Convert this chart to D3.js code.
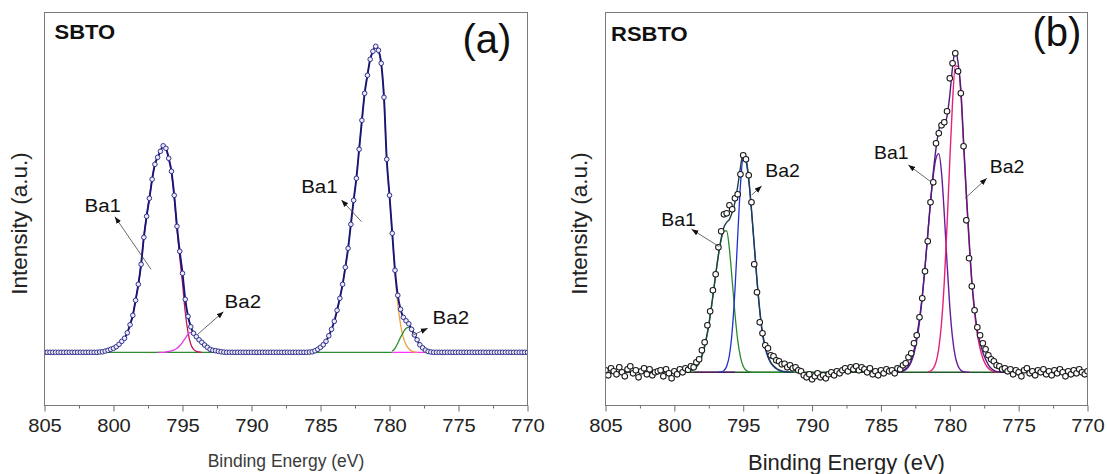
<!DOCTYPE html>
<html><head><meta charset="utf-8">
<script src="https://cdn.jsdelivr.net/npm/d3@7"></script>
<style>
body{margin:0;background:#fff;}
svg{display:block;}
text{font-family:"Liberation Sans",Arial,sans-serif;}
</style></head><body>
<svg id="c" width="1107" height="474"></svg>
<script>
// ---------------- DATA ----------------
const STEP = 0.2; // eV sampling step
const majorTicks = [805, 800, 795, 790, 785, 780, 775, 770];
const minorTicks = [802.5, 797.5, 792.5, 787.5, 782.5, 777.5, 772.5];
const energyGrid = d3.range(176).map(i => +(805 - i * STEP).toFixed(1));

// (a) SBTO measured intensity, 805 -> 770 eV
const sbtoCounts = [
  0,0,0,0,0,0,0,0,0,0,0,0,0,0,0,0,0,0,0,0,
  0.3,0.5,1.2,2,3,4,5.6,8,11,14,19.5,27.5,37,52,68,88,115,136,154,173,188,195,201,206.5,204,194,181,157,126,101,79,53,36,25.5,19,15.6,12.5,10,7.3,5,3,2,1.6,1,0.5,0.2,
  0,0,0,0,0,0,0,0,0,0,0,0,0,0,0,0,0,0,0,0,0,0,0,0,0,0,0,0,0,
  0,0.2,0.5,1.5,3,5,7.5,11,16.5,23,31,42,54,68,85,104,128,152,174,203,232,259,277,293,301,306,302,289,255,193,157,119,82,57,43,35,31.5,28.5,23,17.4,12.5,7.5,4.5,2.2,0.8,0.3,
  0,0,0,0,0,0,0,0,0,0,0,0,0,0,0,0,0,0,0,0,0,0,0,0,0,0,0,0,0,0,0,0,0,0,0
];
// (a) fitted components (values every 0.2 eV from their start energy)
const sbtoBa1_3d32 = [0.3,0.5,1.2,2,3,4,5.6,8,11,14,19.5,27.5,37,52,68,88,115,136,154,173,188,195,201,206.5,204,194,180,155,123,95,69,40,20,8,3,1,0.3,0];
const sbtoBa2_3d32 = [0,0,0,0.3,0.8,1.5,2.5,4,6.5,10,14,18,20,18.5,15,11.5,8.5,6,4,2.5,1.3,0.6,0.2,0];
const sbtoBa1_3d52 = [0,0.2,0.5,1.5,3,5,7.5,11,16.5,23,31,42,54,68,85,104,128,152,174,203,232,259,277,293,301,306,302,289,255,192,156,118,78,48,28,15,7.5,3.5,1.2,0.4,0];
const sbtoBa2_3d52 = [1,4,9,15,20,24,25,22,17,12.5,7.5,4.5,2.2,0.8,0.3];
const sbtoComponentStarts = [801.0, 796.8, 786.0, 779.8];
const sbtoBaselines = [[800.4, 779.8], [779.8, 777.4]];
const sbtoLabels = [
  {text:"Ba1", e:802.1, v:140.6, tailE:797.28, tailV:83,  headE:799.9, headV:135.6},
  {text:"Ba2", e:791.95, v:44,  tailE:793.9,  tailV:18,  headE:792.03, headV:40.6},
  {text:"Ba1", e:786.4, v:159,  tailE:782.03, tailV:130.6, headE:783.48, headV:152.3},
  {text:"Ba2", e:776.88, v:28.3, tailE:778.29, tailV:17.3, headE:777.23, headV:24}
];

// (b) RSBTO measured intensity, 805 -> 770 eV
const rsbtoCounts = [
  2,-3,4,1,-2,5,0,-4,3,6,-1,2,-5,1,4,-2,3,-3,0,1,2,-4,3,-1,-6,
  1,-2,3,0,4,2.5,6,5,10,13,22,30,47,61,82,98,125,141,158,159,167,163,174,178,198,217,213,197,170,108,80,50,39,27,24,17,16,12,11,8,8.5,5,7,4,5,2,
  1,-3,-5,-2,-7,-4,-1,-5,-3,-6,-2,0,-3,1,-1,2,4,1,5,3,6,2,5,3,0,4,-2,1,-3,2,-1,3,1,
  2,-1,4,3,7,9,15,19,29,37,55,74,101,131,170,190,229,239,247,250,261,294,309,319,301,279,226,152,114,86,62,45,37,29,23,17,13,11,7,6,3,4,
  1,3,-2,2,0,-4,2,4,-1,1,-3,2,0,3,-2,1,-3,2,-1,3,0,-4,1,-2,2,-1,3,0,-2,1
];
// (b) fit envelope pieces and components
const rsbtoEnvelope1 = [0,0.2,0.4,0.6,1,1.5,2.5,4,6.5,10.5,17,27,40,57,77,98,118,134,145,150,153,160,170,186,205,219,214,194,163,128,93,63,40,26,16,10,6.5,4,2.5,1.5,0.8,0.4,0.2,0];
const rsbtoEnvelope2 = [0,0.1,0.3,0.8,1.8,3.5,6.5,12,22,36,54,76,105,138,171,200,224,242,249,249,256,277,305,322,310,284,232,180,134,92,63,42,30,20,13,7.5,4,2,0.8,0.3,0.1,0];
const rsbtoBa1_3d32 = [0.3,0.6,1.2,2.5,4.9,8.9,15.4,25.2,38.6,55.6,75.7,96.8,116.7,132.4,141.5,141.3,123,91.8,58.6,32.2,15.2,6.1,2.1,0.6,0.2,0,0,0,0,0,0,0,0,0,0,0,0,0,0,0,0,0];
const rsbtoBa2_3d32 = [0.1,0.4,1.7,6,17.3,41.3,82,136,187,214.8,211,192,161.5,126,91,60.7,37.6,24,15,9.5,6,3.5,2,1,0.5,0.2,0];
const rsbtoBa1_3d52 = [0.1,0.2,0.5,1.2,2.7,5.5,10.4,18.7,31.7,50.2,74.9,104.7,137.6,169.7,196.6,214.1,218.7,199.7,158.6,109.5,65.7,34.4,15.6,6.2,2.1,0.6,0.2,0];
const rsbtoBa2_3d52 = [0.3,1.3,3.9,10.2,23.8,49.3,90.2,146.6,211.2,270.2,306.4,306,279,228,176,130,89,60,38,24,14,8,4,2,0.8,0.3,0];
const rsbtoStarts = {env1:800.0, env2:784.2, ba1a:799.2, ba2a:796.8, ba1b:784.0, ba2b:781.6};
const rsbtoBaselines = [[805, 770], [798.6, 795.6]];
const rsbtoLabels = [
  {text:"Ba1", e:800.95, v:146.3, tailE:796.74, tailV:125.6, headE:798.75, headV:143},
  {text:"Ba2", e:793.4,  v:195.3, tailE:794.39, tailV:177.3, headE:793.66, headV:186.3},
  {text:"Ba1", e:785.5,  v:213,   tailE:781.38, tailV:190.6, headE:783.01, headV:207.3},
  {text:"Ba2", e:777.1,  v:199,   tailE:778.89, tailV:174,   headE:777.31, headV:194}
];

if (sbtoCounts.length !== 176 || rsbtoCounts.length !== 176) {
  throw new Error("length mismatch " + sbtoCounts.length + " " + rsbtoCounts.length);
}

// ---------------- DRAWING ----------------
const svg = d3.select("#c");
const TOP = 12.5, BOTTOM = 405.5;
const defs = svg.append("defs");
defs.append("marker").attr("id","ah").attr("viewBox","0 0 10 10")
  .attr("refX",10).attr("refY",5).attr("markerWidth",7).attr("markerHeight",7)
  .attr("markerUnits","userSpaceOnUse").attr("orient","auto")
  .append("path").attr("d","M0,1.2 L10,5 L0,8.8 z").attr("fill","#111");

function pts(start, values) {
  return values.map((v, i) => ({e: +(start - i * STEP).toFixed(1), v}));
}

function drawPanel(p) {
  const x = d3.scaleLinear().domain([805, 770]).range([p.left, p.right]);
  const y = d3.scaleLinear().domain(p.yDomain).range([BOTTOM, TOP]);
  const line = d3.line().x(d => x(d.e)).y(d => y(d.v)).curve(d3.curveMonotoneX);
  const g = svg.append("g");
  const clipId = "clip" + p.id;
  defs.append("clipPath").attr("id", clipId).append("rect")
    .attr("x", p.left).attr("y", TOP).attr("width", p.right - p.left).attr("height", BOTTOM - TOP);
  const plot = g.append("g").attr("clip-path", `url(#${clipId})`);

  p.layers.forEach(L => {
    let d;
    if (L.baseline) d = [{e: L.baseline[0], v: 0}, {e: L.baseline[1], v: 0}];
    else d = pts(L.start, L.values);
    plot.append("path").attr("d", line(d)).attr("fill", "none")
      .attr("stroke", L.color).attr("stroke-width", L.width).attr("stroke-linejoin","round");
  });

  const measured = energyGrid.map((e, i) => ({e, v: p.counts[i]}));
  plot.selectAll("circle.pt").data(measured).join("circle").attr("class","pt")
    .attr("cx", d => x(d.e)).attr("cy", d => y(d.v)).attr("r", p.r)
    .attr("fill", p.ptFill).attr("stroke", p.ptStroke).attr("stroke-width", p.ptWidth);

  // annotations
  p.labels.forEach(a => {
    g.append("line").attr("x1", x(a.tailE)).attr("y1", y(a.tailV))
      .attr("x2", x(a.headE)).attr("y2", y(a.headV))
      .attr("stroke", "#444").attr("stroke-width", 0.8).attr("marker-end", "url(#ah)");
    g.append("text").attr("transform", `translate(${x(a.e)},${y(a.v)}) scale(1.08,1)`)
      .attr("font-size", p.labelSize).attr("fill", "#111").text(a.text);
  });

  // frame
  g.append("rect").attr("x", p.left).attr("y", TOP).attr("width", p.right - p.left)
    .attr("height", BOTTOM - TOP).attr("fill", "none").attr("stroke", "#7a7a7a").attr("stroke-width", 1);

  // x axis
  const ax = g.append("g").attr("transform", `translate(0,${BOTTOM})`)
    .call(d3.axisBottom(x).tickValues(majorTicks).tickSize(6).tickFormat(d3.format("d")));
  ax.select(".domain").remove();
  ax.selectAll(".tick line").attr("stroke", "#6a6a6a");
  ax.selectAll(".tick text").attr("y", 0).attr("dy", 0)
    .attr("transform", "translate(0,26.5) scale(1.12,1)")
    .attr("font-size", 18).attr("fill", "#222").attr("font-family", '"Liberation Sans",Arial,sans-serif');
  const axm = g.append("g").attr("transform", `translate(0,${BOTTOM})`)
    .call(d3.axisBottom(x).tickValues(minorTicks).tickSize(3).tickFormat(""));
  axm.select(".domain").remove();
  axm.selectAll(".tick line").attr("stroke", "#6a6a6a");

  // titles
  g.append("text").attr("x", (p.left + p.right) / 2).attr("y", p.xTitleY)
    .attr("text-anchor", "middle").attr("font-size", p.xTitleSize).attr("fill", p.xTitleColor)
    .text("Binding Energy (eV)");
  g.append("text").attr("transform", `translate(${p.yTitleX},223.5) rotate(-90)`)
    .attr("text-anchor", "middle").attr("font-size", 22.5).attr("fill", "#222")
    .text("Intensity (a.u.)");
  g.append("text").attr("transform", `translate(${p.nameX},${p.nameY}) scale(1.1,1)`)
    .attr("font-size", 20).attr("font-weight", "bold").attr("fill", "#111").text(p.name);
  g.append("text").attr("x", p.tagX).attr("y", p.tagY)
    .attr("font-size", 40).attr("fill", "#111").text(p.tag);
}

drawPanel({
  id: "a", left: 44.5, right: 527.5, yDomain: [-53.2, 339.8],
  counts: sbtoCounts, r: 2.3, ptFill: "#ececf6", ptStroke: "#30308c", ptWidth: 1,
  layers: [
    {baseline: sbtoBaselines[0], color: "#2e8b2e", width: 1.3},
    {baseline: sbtoBaselines[1], color: "#ff33ff", width: 1.3},
    {start: sbtoComponentStarts[0], values: sbtoBa1_3d32, color: "#c2185b", width: 1.3},
    {start: sbtoComponentStarts[1], values: sbtoBa2_3d32, color: "#e63ce6", width: 1.3},
    {start: sbtoComponentStarts[2], values: sbtoBa1_3d52, color: "#f0a040", width: 1.3},
    {start: sbtoComponentStarts[3], values: sbtoBa2_3d52, color: "#2e8b2e", width: 1.3},
    {start: 805.0, values: sbtoCounts, color: "#15157a", width: 1.9}
  ],
  labels: sbtoLabels, labelSize: 19,
  xTitleY: 466.7, xTitleSize: 17.5, xTitleColor: "#3a3a3a",
  yTitleX: 27, name: "SBTO", nameX: 54.5, nameY: 39, tag: "(a)", tagX: 462.5, tagY: 53.3
});

drawPanel({
  id: "b", left: 605.5, right: 1087.5, yDomain: [-33.2, 359.8],
  counts: rsbtoCounts, r: 2.8, ptFill: "#ffffff", ptStroke: "#1a1a1a", ptWidth: 1.05,
  layers: [
    {baseline: rsbtoBaselines[0], color: "#1f5a24", width: 1.4},
    {baseline: rsbtoBaselines[1], color: "#5a1a5a", width: 1.4},
    {start: rsbtoStarts.ba1a, values: rsbtoBa1_3d32, color: "#2a8a2a", width: 1.3},
    {start: rsbtoStarts.ba2a, values: rsbtoBa2_3d32, color: "#1f2fd0", width: 1.3},
    {start: rsbtoStarts.env1, values: rsbtoEnvelope1, color: "#203f4d", width: 1.4},
    {start: rsbtoStarts.ba1b, values: rsbtoBa1_3d52, color: "#6a1a9a", width: 1.4},
    {start: rsbtoStarts.ba2b, values: rsbtoBa2_3d52, color: "#e8207a", width: 1.4},
    {start: rsbtoStarts.env2, values: rsbtoEnvelope2, color: "#4b1f7a", width: 1.4}
  ],
  labels: rsbtoLabels, labelSize: 18,
  xTitleY: 470, xTitleSize: 22, xTitleColor: "#222",
  yTitleX: 587.2, name: "RSBTO", nameX: 611, nameY: 40.7, tag: "(b)", tagX: 1032.5, tagY: 45.5
});
</script>
</body></html>
